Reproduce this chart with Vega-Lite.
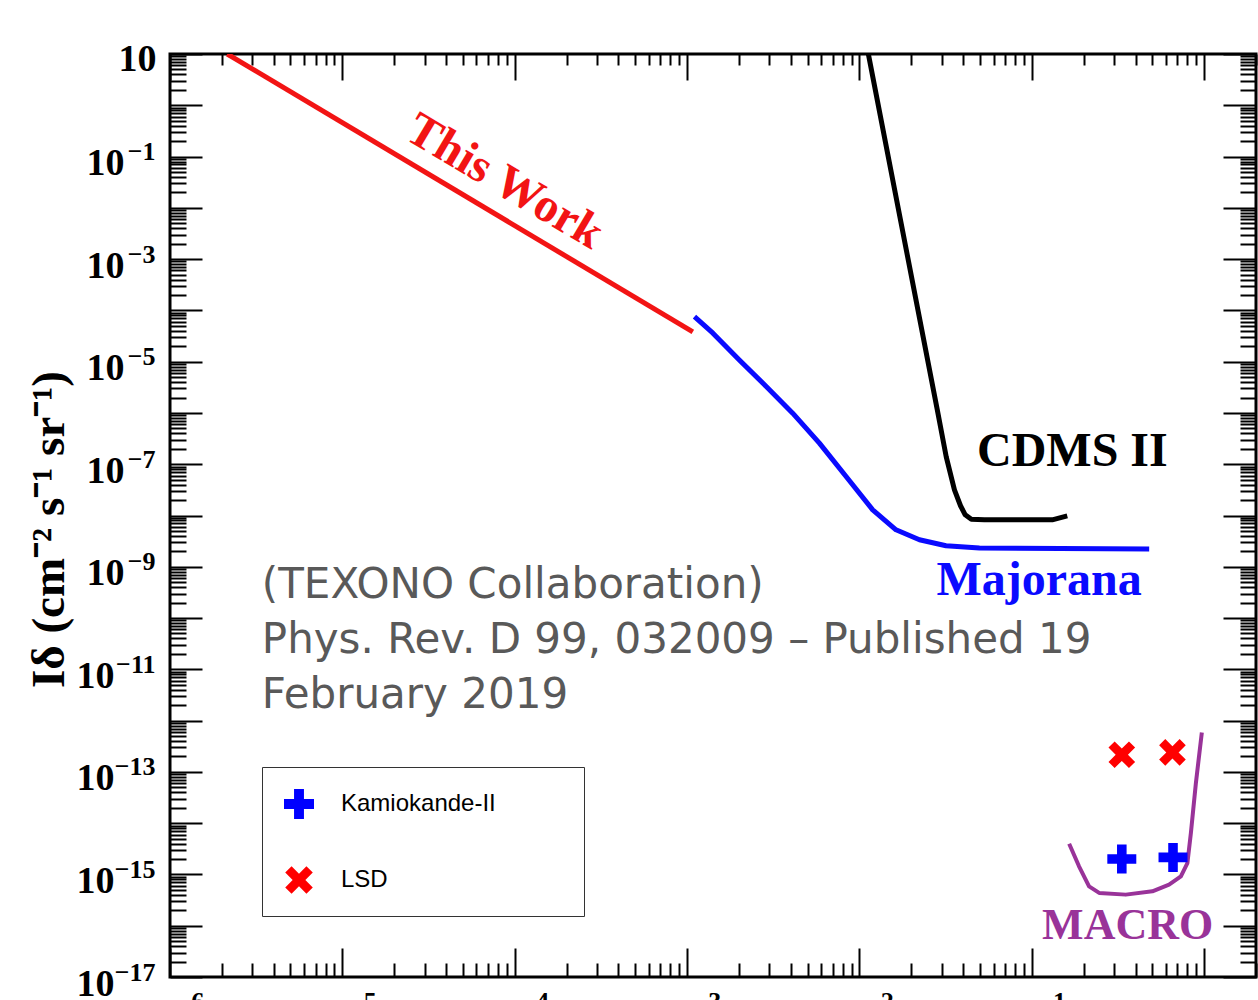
{
  "$schema": "https://vega.github.io/schema/vega-lite/v6.json",
  "width": 1086,
  "height": 923,
  "autosize": {"type": "none"},
  "padding": {"left": 170, "top": 54, "right": 2, "bottom": 23},
  "background": "white",
  "config": {
    "view": {"stroke": "black", "strokeWidth": 3},
    "axis": {"grid": false, "tickColor": "black", "domain": false}
  },
  "resolve": {"axis": {"x": "independent", "y": "independent"}},
  "layer": [
    {
      "data": {"values": [
        {"series": "This Work", "x": 2.15e-6, "y": 10},
        {"series": "This Work", "x": 1.08e-3, "y": 3.8e-5}
      ]},
      "mark": {"type": "line", "color": "#f21414", "strokeWidth": 5, "clip": true},
      "encoding": {
        "x": {"field": "x", "type": "quantitative", "scale": {"type": "log", "domain": [1e-6, 2], "nice": false},
          "axis": {"orient": "bottom", "values": [1e-6,1e-5,1e-4,1e-3,0.01,0.1,1], "tickSize": 29, "offset": -29, "tickWidth": 2, "labels": false, "title": null}},
        "y": {"field": "y", "type": "quantitative", "scale": {"type": "log", "domain": [1e-17, 10], "nice": false},
          "axis": {"orient": "left", "values": [1e-17,1e-16,1e-15,1e-14,1e-13,1e-12,1e-11,1e-10,1e-9,1e-8,1e-7,1e-6,1e-5,1e-4,1e-3,0.01,0.1,1,10],
            "tickSize": 32, "offset": -32, "tickWidth": 2, "labels": false,
            "title": "Iδ (cm⁻² s⁻¹ sr⁻¹)", "titleFont": "Liberation Serif", "titleFontWeight": "bold", "titleFontSize": 47, "titleColor": "black",
            "titleAngle": -90, "titleX": -139, "titleY": 475, "titleAlign": "center", "titleBaseline": "alphabetic"}}
      }
    },
    {
      "data": {"values": [
        {"series": "Majorana", "x": 1.104e-3, "y": 7.57e-5},
        {"series": "Majorana", "x": 1.413e-3, "y": 3.6e-5},
        {"series": "Majorana", "x": 2.01e-3, "y": 1.08e-5},
        {"series": "Majorana", "x": 2.88e-3, "y": 3.27e-6},
        {"series": "Majorana", "x": 4.1e-3, "y": 9.9e-7},
        {"series": "Majorana", "x": 5.86e-3, "y": 2.58e-7},
        {"series": "Majorana", "x": 8.37e-3, "y": 5.75e-8},
        {"series": "Majorana", "x": 1.194e-2, "y": 1.29e-8},
        {"series": "Majorana", "x": 1.63e-2, "y": 5.26e-9},
        {"series": "Majorana", "x": 2.23e-2, "y": 3.36e-9},
        {"series": "Majorana", "x": 3.18e-2, "y": 2.57e-9},
        {"series": "Majorana", "x": 4.97e-2, "y": 2.32e-9},
        {"series": "Majorana", "x": 0.48, "y": 2.21e-9}
      ]},
      "mark": {"type": "line", "color": "#0a0aff", "strokeWidth": 5, "clip": true, "strokeJoin": "round"},
      "encoding": {
        "x": {"field": "x", "type": "quantitative", "scale": {"type": "log", "domain": [1e-6, 2], "nice": false},
          "axis": {"orient": "bottom", "values": [2e-6,3e-6,4e-6,5e-6,6e-6,7e-6,8e-6,9e-6,2e-5,3e-5,4e-5,5e-5,6e-5,7e-5,8e-5,9e-5,2e-4,3e-4,4e-4,5e-4,6e-4,7e-4,8e-4,9e-4,2e-3,3e-3,4e-3,5e-3,6e-3,7e-3,8e-3,9e-3,0.02,0.03,0.04,0.05,0.06,0.07,0.08,0.09,0.2,0.3,0.4,0.5,0.6,0.7,0.8,0.9,2],
            "tickSize": 14, "offset": -14, "tickWidth": 2, "labels": false, "title": null}},
        "y": {"field": "y", "type": "quantitative", "scale": {"type": "log", "domain": [1e-17, 10], "nice": false},
          "axis": {"orient": "left", "values": [2e-17,3e-17,4e-17,5e-17,6e-17,7e-17,8e-17,9e-17,2e-16,3e-16,4e-16,5e-16,6e-16,7e-16,8e-16,9e-16,2e-15,3e-15,4e-15,5e-15,6e-15,7e-15,8e-15,9e-15,2e-14,3e-14,4e-14,5e-14,6e-14,7e-14,8e-14,9e-14,2e-13,3e-13,4e-13,5e-13,6e-13,7e-13,8e-13,9e-13,2e-12,3e-12,4e-12,5e-12,6e-12,7e-12,8e-12,9e-12,2e-11,3e-11,4e-11,5e-11,6e-11,7e-11,8e-11,9e-11,2e-10,3e-10,4e-10,5e-10,6e-10,7e-10,8e-10,9e-10,2e-9,3e-9,4e-9,5e-9,6e-9,7e-9,8e-9,9e-9,2e-8,3e-8,4e-8,5e-8,6e-8,7e-8,8e-8,9e-8,2e-7,3e-7,4e-7,5e-7,6e-7,7e-7,8e-7,9e-7,2e-6,3e-6,4e-6,5e-6,6e-6,7e-6,8e-6,9e-6,2e-5,3e-5,4e-5,5e-5,6e-5,7e-5,8e-5,9e-5,2e-4,3e-4,4e-4,5e-4,6e-4,7e-4,8e-4,9e-4,2e-3,3e-3,4e-3,5e-3,6e-3,7e-3,8e-3,9e-3,0.02,0.03,0.04,0.05,0.06,0.07,0.08,0.09,0.2,0.3,0.4,0.5,0.6,0.7,0.8,0.9,2,3,4,5,6,7,8,9],
            "tickSize": 16, "offset": -16, "tickWidth": 2, "labels": false, "title": null}}
      }
    },
    {
      "data": {"values": [
        {"series": "CDMS II", "x": 1.127e-2, "y": 10},
        {"series": "CDMS II", "x": 2.83e-2, "y": 1.15e-6},
        {"series": "CDMS II", "x": 3.19e-2, "y": 1.39e-7},
        {"series": "CDMS II", "x": 3.56e-2, "y": 3.17e-8},
        {"series": "CDMS II", "x": 3.86e-2, "y": 1.55e-8},
        {"series": "CDMS II", "x": 4.11e-2, "y": 1.03e-8},
        {"series": "CDMS II", "x": 4.46e-2, "y": 8.43e-9},
        {"series": "CDMS II", "x": 5.31e-2, "y": 8.24e-9},
        {"series": "CDMS II", "x": 0.1315, "y": 8.24e-9},
        {"series": "CDMS II", "x": 0.1607, "y": 9.87e-9}
      ]},
      "mark": {"type": "line", "color": "black", "strokeWidth": 5, "clip": true, "strokeJoin": "round"},
      "encoding": {
        "x": {"field": "x", "type": "quantitative", "scale": {"type": "log", "domain": [1e-6, 2], "nice": false},
          "axis": {"orient": "bottom", "values": [1e-6,1e-5,1e-4,1e-3,0.01,0.1,1], "ticks": false, "tickSize": 0,
            "labelExpr": "datum.value >= 1 ? '1' : '10'", "labelFont": "Liberation Serif", "labelFontWeight": "bold", "labelFontSize": 38, "labelColor": "black",
            "labelAlign": "right", "labelBaseline": "top", "labelPadding": 26, "labelOffset": 6, "title": null}},
        "y": {"field": "y", "type": "quantitative", "scale": {"type": "log", "domain": [1e-17, 10], "nice": false},
          "axis": {"orient": "left", "values": [10], "ticks": false, "tickSize": 0,
            "labelExpr": "'10'", "labelFont": "Liberation Serif", "labelFontWeight": "bold", "labelFontSize": 38, "labelColor": "black",
            "labelAlign": "right", "labelBaseline": "alphabetic", "labelPadding": 14, "labelOffset": 16, "title": null}}
      }
    },
    {
      "data": {"values": [
        {"series": "MACRO", "x": 0.1648, "y": 3.98e-15},
        {"series": "MACRO", "x": 0.188, "y": 1.44e-15},
        {"series": "MACRO", "x": 0.215, "y": 5.86e-16},
        {"series": "MACRO", "x": 0.246, "y": 4.36e-16},
        {"series": "MACRO", "x": 0.351, "y": 4.04e-16},
        {"series": "MACRO", "x": 0.501, "y": 4.69e-16},
        {"series": "MACRO", "x": 0.626, "y": 6.33e-16},
        {"series": "MACRO", "x": 0.733, "y": 9.18e-16},
        {"series": "MACRO", "x": 0.8, "y": 1.67e-15},
        {"series": "MACRO", "x": 0.838, "y": 6.44e-15},
        {"series": "MACRO", "x": 0.896, "y": 6.08e-14},
        {"series": "MACRO", "x": 0.97, "y": 5.89e-13}
      ]},
      "mark": {"type": "line", "color": "#993399", "strokeWidth": 4, "clip": true, "strokeJoin": "round"},
      "encoding": {
        "x": {"field": "x", "type": "quantitative", "scale": {"type": "log", "domain": [1e-6, 2], "nice": false},
          "axis": {"orient": "bottom", "values": [1e-6,1e-5,1e-4,1e-3,0.01,0.1,1], "ticks": false, "tickSize": 0,
            "labelExpr": "datum.value >= 1 ? '' : '−' + round(-log(datum.value) / LN10)", "labelFont": "Liberation Serif", "labelFontWeight": "bold", "labelFontSize": 26, "labelColor": "black",
            "labelAlign": "left", "labelBaseline": "top", "labelPadding": 11, "labelOffset": 6, "title": null}},
        "y": {"field": "y", "type": "quantitative", "scale": {"type": "log", "domain": [1e-17, 10], "nice": false},
          "axis": {"orient": "left", "values": [1e-17,1e-15,1e-13,1e-11,1e-9,1e-7,1e-5,1e-3,0.1], "ticks": false, "tickSize": 0,
            "labelExpr": "'−' + round(-log(datum.value) / LN10)", "labelFont": "Liberation Serif", "labelFontWeight": "bold", "labelFontSize": 26, "labelColor": "black",
            "labelAlign": "right", "labelBaseline": "alphabetic", "labelPadding": 15, "labelOffset": 3, "title": null}}
      }
    },
    {
      "data": {"values": [
        {"experiment": "Kamiokande-II", "x": 0.333, "y": 2.0e-15},
        {"experiment": "Kamiokande-II", "x": 0.66, "y": 2.15e-15},
        {"experiment": "LSD", "x": 0.333, "y": 2.16e-13},
        {"experiment": "LSD", "x": 0.655, "y": 2.4e-13}
      ]},
      "mark": {"type": "point", "filled": true, "size": 840, "opacity": 1, "strokeWidth": 0},
      "encoding": {
        "x": {"field": "x", "type": "quantitative", "scale": {"type": "log", "domain": [1e-6, 2], "nice": false},
          "axis": {"orient": "top", "values": [1e-6,1e-5,1e-4,1e-3,0.01,0.1,1], "tickSize": 26, "offset": -26, "tickWidth": 2, "labels": false, "title": null}},
        "y": {"field": "y", "type": "quantitative", "scale": {"type": "log", "domain": [1e-17, 10], "nice": false},
          "axis": {"orient": "right", "values": [1e-17,1e-16,1e-15,1e-14,1e-13,1e-12,1e-11,1e-10,1e-9,1e-8,1e-7,1e-6,1e-5,1e-4,1e-3,0.01,0.1,1,10],
            "tickSize": 33, "offset": -33, "tickWidth": 2, "labels": false, "title": null}},
        "color": {"field": "experiment", "type": "nominal",
          "scale": {"domain": ["Kamiokande-II", "LSD"], "range": ["#0000ff", "#ff0000"]},
          "legend": {"orient": "none", "legendX": 92, "legendY": 713, "title": "\u00a0", "titleOrient": "right", "titlePadding": 66, "titleFontSize": 24, "padding": 22, "strokeColor": "#333333", "fillColor": "white",
            "symbolSize": 900, "symbolStrokeWidth": 0, "labelFont": "Liberation Sans", "labelFontSize": 24, "labelColor": "black", "labelOffset": 27, "rowPadding": 46, "labelLimit": 500}},
        "shape": {"field": "experiment", "type": "nominal",
          "scale": {"domain": ["Kamiokande-II", "LSD"], "range": ["M-1,-0.33H-0.33V-1H0.33V-0.33H1V0.33H0.33V1H-0.33V0.33H-1Z", "M-0.495,-0.919L0,-0.424L0.495,-0.919L0.919,-0.495L0.424,0L0.919,0.495L0.495,0.919L0,0.424L-0.495,0.919L-0.919,0.495L-0.424,0L-0.919,-0.495Z"]},
          "legend": {"orient": "none", "legendX": 92, "legendY": 713, "title": "\u00a0", "titleOrient": "right", "titlePadding": 66, "titleFontSize": 24, "padding": 22, "strokeColor": "#333333", "fillColor": "white",
            "symbolSize": 900, "symbolStrokeWidth": 0, "labelFont": "Liberation Sans", "labelFontSize": 24, "labelColor": "black", "labelOffset": 27, "rowPadding": 46, "labelLimit": 500}}
      }
    },
    {
      "data": {"values": [{"label": "This Work", "x": 8.75e-5, "y": 0.032}]},
      "mark": {"type": "text", "color": "#f21414", "font": "Liberation Serif", "fontWeight": "bold", "fontSize": 48, "angle": 30.7, "align": "center", "baseline": "middle"},
      "encoding": {
        "x": {"field": "x", "type": "quantitative", "scale": {"type": "log", "domain": [1e-6, 2], "nice": false},
          "axis": {"orient": "top", "values": [2e-6,3e-6,4e-6,5e-6,6e-6,7e-6,8e-6,9e-6,2e-5,3e-5,4e-5,5e-5,6e-5,7e-5,8e-5,9e-5,2e-4,3e-4,4e-4,5e-4,6e-4,7e-4,8e-4,9e-4,2e-3,3e-3,4e-3,5e-3,6e-3,7e-3,8e-3,9e-3,0.02,0.03,0.04,0.05,0.06,0.07,0.08,0.09,0.2,0.3,0.4,0.5,0.6,0.7,0.8,0.9,2],
            "tickSize": 11, "offset": -11, "tickWidth": 2, "labels": false, "title": null}},
        "y": {"field": "y", "type": "quantitative", "scale": {"type": "log", "domain": [1e-17, 10], "nice": false},
          "axis": {"orient": "right", "values": [2e-17,3e-17,4e-17,5e-17,6e-17,7e-17,8e-17,9e-17,2e-16,3e-16,4e-16,5e-16,6e-16,7e-16,8e-16,9e-16,2e-15,3e-15,4e-15,5e-15,6e-15,7e-15,8e-15,9e-15,2e-14,3e-14,4e-14,5e-14,6e-14,7e-14,8e-14,9e-14,2e-13,3e-13,4e-13,5e-13,6e-13,7e-13,8e-13,9e-13,2e-12,3e-12,4e-12,5e-12,6e-12,7e-12,8e-12,9e-12,2e-11,3e-11,4e-11,5e-11,6e-11,7e-11,8e-11,9e-11,2e-10,3e-10,4e-10,5e-10,6e-10,7e-10,8e-10,9e-10,2e-9,3e-9,4e-9,5e-9,6e-9,7e-9,8e-9,9e-9,2e-8,3e-8,4e-8,5e-8,6e-8,7e-8,8e-8,9e-8,2e-7,3e-7,4e-7,5e-7,6e-7,7e-7,8e-7,9e-7,2e-6,3e-6,4e-6,5e-6,6e-6,7e-6,8e-6,9e-6,2e-5,3e-5,4e-5,5e-5,6e-5,7e-5,8e-5,9e-5,2e-4,3e-4,4e-4,5e-4,6e-4,7e-4,8e-4,9e-4,2e-3,3e-3,4e-3,5e-3,6e-3,7e-3,8e-3,9e-3,0.02,0.03,0.04,0.05,0.06,0.07,0.08,0.09,0.2,0.3,0.4,0.5,0.6,0.7,0.8,0.9,2,3,4,5,6,7,8,9],
            "tickSize": 16, "offset": -16, "tickWidth": 2, "labels": false, "title": null}},
        "text": {"field": "label", "type": "nominal"}
      }
    },
    {
      "data": {"values": [{"label": "CDMS II", "x": 0.172, "y": 9.3e-8}]},
      "mark": {"type": "text", "color": "black", "font": "Liberation Serif", "fontWeight": "bold", "fontSize": 48, "align": "center", "baseline": "alphabetic"},
      "encoding": {
        "x": {"field": "x", "type": "quantitative", "scale": {"type": "log", "domain": [1e-6, 2], "nice": false}, "axis": null},
        "y": {"field": "y", "type": "quantitative", "scale": {"type": "log", "domain": [1e-17, 10], "nice": false},
          "axis": {"orient": "left", "values": [1e-9,1e-7,1e-5,1e-3,0.1], "ticks": false, "tickSize": 0,
            "labelExpr": "'10'", "labelFont": "Liberation Serif", "labelFontWeight": "bold", "labelFontSize": 38, "labelColor": "black",
            "labelAlign": "right", "labelBaseline": "alphabetic", "labelPadding": 46, "labelOffset": 18, "title": null}},
        "text": {"field": "label", "type": "nominal"}
      }
    },
    {
      "data": {"values": [{"label": "Majorana", "x": 0.1104, "y": 2.85e-10}]},
      "mark": {"type": "text", "color": "#0a0aff", "font": "Liberation Serif", "fontWeight": "bold", "fontSize": 48, "align": "center", "baseline": "alphabetic"},
      "encoding": {
        "x": {"field": "x", "type": "quantitative", "scale": {"type": "log", "domain": [1e-6, 2], "nice": false}, "axis": null},
        "y": {"field": "y", "type": "quantitative", "scale": {"type": "log", "domain": [1e-17, 10], "nice": false},
          "axis": {"orient": "left", "values": [1e-17,1e-15,1e-13,1e-11], "ticks": false, "tickSize": 0,
            "labelExpr": "'10'", "labelFont": "Liberation Serif", "labelFontWeight": "bold", "labelFontSize": 38, "labelColor": "black",
            "labelAlign": "right", "labelBaseline": "alphabetic", "labelPadding": 56, "labelOffset": 18, "title": null}},
        "text": {"field": "label", "type": "nominal"}
      }
    },
    {
      "data": {"values": [{"label": "MACRO", "x": 0.36, "y": 5.6e-17}]},
      "mark": {"type": "text", "color": "#993399", "font": "Liberation Serif", "fontWeight": "bold", "fontSize": 44, "align": "center", "baseline": "alphabetic"},
      "encoding": {
        "x": {"field": "x", "type": "quantitative", "scale": {"type": "log", "domain": [1e-6, 2], "nice": false}, "axis": null},
        "y": {"field": "y", "type": "quantitative", "scale": {"type": "log", "domain": [1e-17, 10], "nice": false}, "axis": null},
        "text": {"field": "label", "type": "nominal"}
      }
    },
    {
      "data": {"values": [{"label": "(TEXONO Collaboration)\nPhys. Rev. D 99, 032009 – Published 19\nFebruary 2019", "x": 3.41e-6, "y": 2.49e-10}]},
      "mark": {"type": "text", "color": "#595959", "font": "DejaVu Sans", "fontSize": 42, "align": "left", "baseline": "alphabetic", "lineBreak": "\n", "lineHeight": 55},
      "encoding": {
        "x": {"field": "x", "type": "quantitative", "scale": {"type": "log", "domain": [1e-6, 2], "nice": false}, "axis": null},
        "y": {"field": "y", "type": "quantitative", "scale": {"type": "log", "domain": [1e-17, 10], "nice": false}, "axis": null},
        "text": {"field": "label", "type": "nominal"}
      }
    }
  ]
}
